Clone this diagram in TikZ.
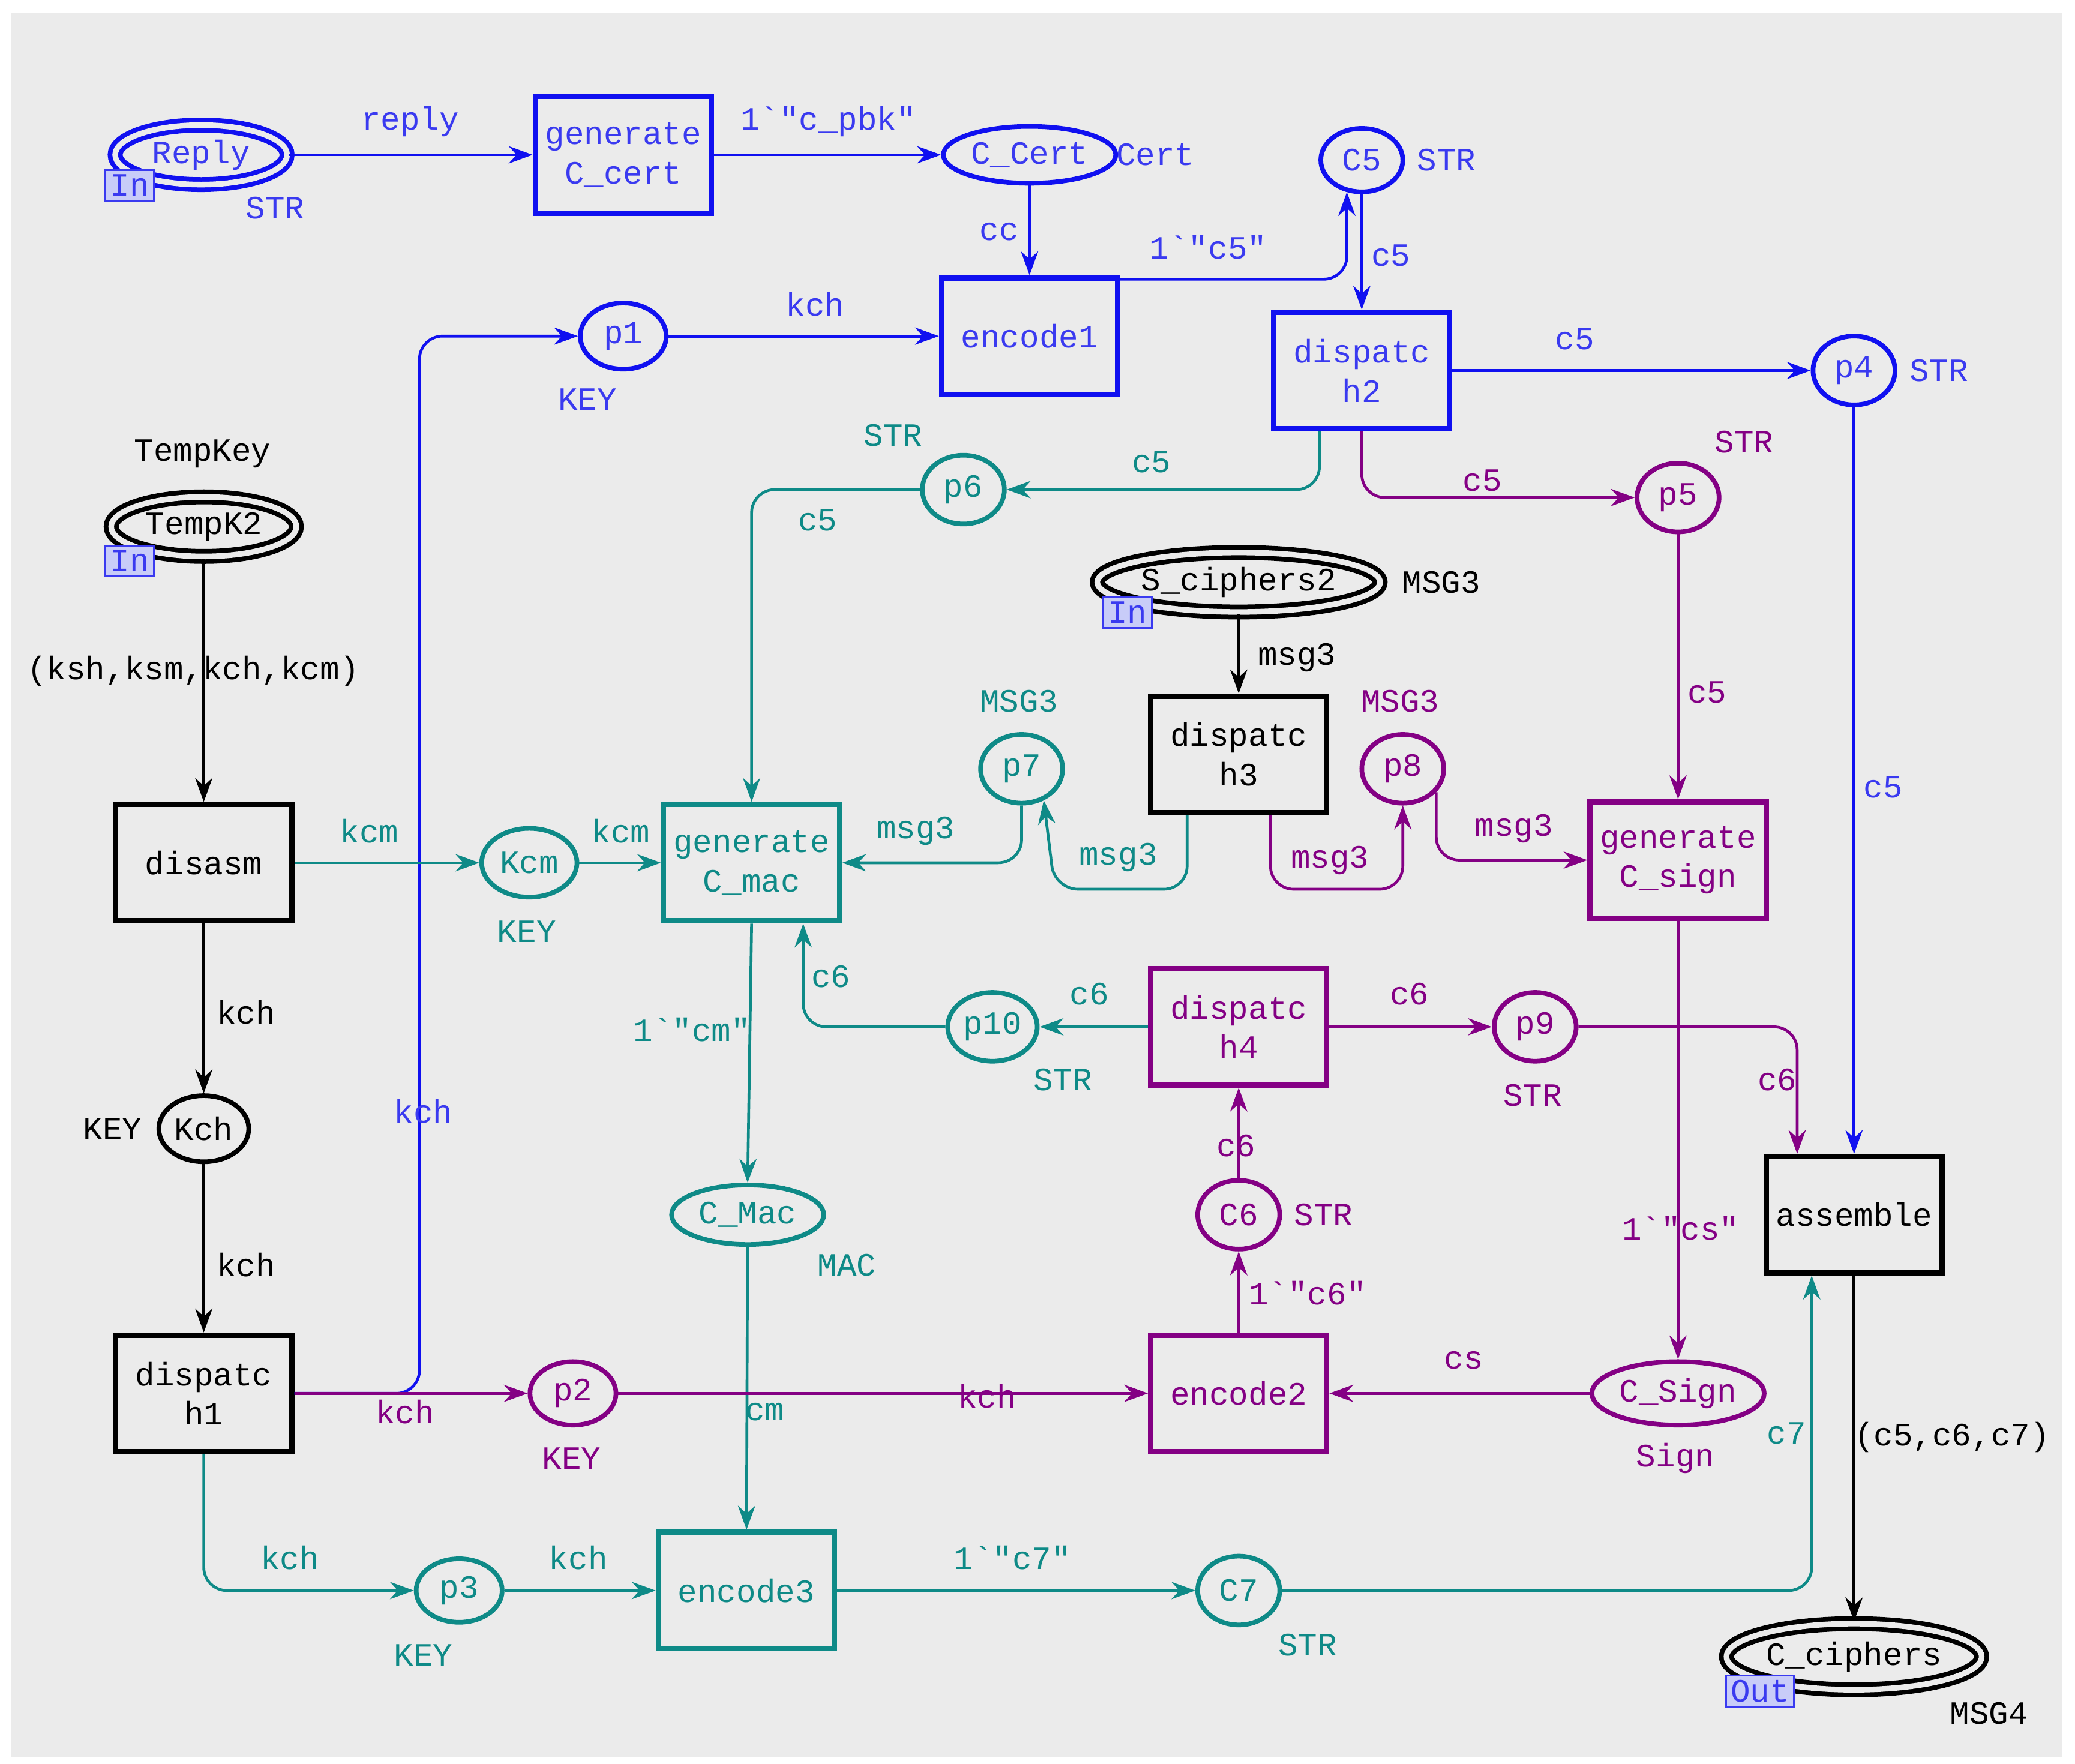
\documentclass[tikz,border=0pt]{standalone}
\usepackage{fontspec}
\setmainfont{Liberation Mono}[Ligatures=TeXOff]
\usetikzlibrary{arrows.meta,shapes.geometric}
\definecolor{bl}{HTML}{1010F0}
\definecolor{blt}{HTML}{3A3AF0}
\definecolor{te}{HTML}{0E8A87}
\definecolor{pu}{HTML}{840084}
\definecolor{bg}{HTML}{EBEBEB}
\definecolor{tagf}{HTML}{C8CCF8}
\newcommand{\bq}{\symbol{96}}
\newcommand{\dq}{\symbol{34}}
\begin{document}
\begin{tikzpicture}[x=0.02cm,y=-0.02cm,
  every node/.style={font=\fontsize{14}{17}\selectfont, inner sep=1pt},
  tr/.style={draw,line width=2.3pt,fill=bg,minimum width=2.66cm,minimum height=1.76cm,align=center},
  pl/.style={draw,ellipse,line width=2pt,fill=bg,minimum width=1.3cm,minimum height=1.0cm},
  dpl/.style={draw,ellipse,line width=2pt,fill=bg,double=bg,double distance=2.4pt,minimum height=0.9cm},
  cB/.style={draw=bl,text=blt}, cT/.style={draw=te,text=te}, cP/.style={draw=pu,text=pu}, cK/.style={draw=black,text=black},
  tag/.style={draw=blt,fill=tagf,text=blt,line width=0.8pt,inner sep=2pt},
  ar/.style={line width=1.2pt,-{Stealth[length=0.36cm,width=0.26cm]}},
  rc/.style={rounded corners=0.35cm},
  B/.style={ar,bl}, T/.style={ar,te}, P/.style={ar,pu}, K/.style={ar,black}]
\fill[white] (0,0) rectangle (1568,1333);
\fill[bg] (8,10) rectangle (1558,1328);
% routing coordinates
\coordinate (k1) at (317,254);
\coordinate (m1) at (797,672);
\coordinate (m2) at (1060,672);
% nodes
\node[dpl,cB,minimum width=2.6cm] (reply) at (152,117) {Reply};
\node[tr,cB] (gcc) at (471,117) {generate\\C\_cert};
\node[pl,cB,minimum width=2.3cm,minimum height=0.86cm] (ccert) at (778,117) {C\_Cert};
\node[pl,cB,minimum width=1.24cm,minimum height=0.96cm] (c5) at (1029,121) {C5};
\node[tr,cB] (enc1) at (778,254) {encode1};
\node[pl,cB] (p1) at (471,254) {p1};
\node[tr,cB] (d2) at (1029,280) {dispatc\\h2};
\node[pl,cB,minimum width=1.24cm,minimum height=1.04cm] (p4) at (1401,280) {p4};
\node[dpl,cK,minimum width=2.8cm] (tk) at (154,398) {TempK2};
\node[pl,cT,minimum width=1.24cm,minimum height=1.04cm] (p6) at (728,370) {p6};
\node[pl,cP,minimum width=1.24cm,minimum height=1.04cm] (p5) at (1268,376) {p5};
\node[dpl,cK,minimum width=4.2cm] (sc2) at (936,440) {S\_ciphers2};
\node[tr,cK] (d3) at (936,570) {dispatc\\h3};
\node[pl,cT,minimum width=1.24cm,minimum height=1.04cm] (p7) at (772,581) {p7};
\node[pl,cP,minimum width=1.24cm,minimum height=1.04cm] (p8) at (1060,581) {p8};
\node[tr,cK] (dis) at (154,652) {disasm};
\node[pl,cT,minimum width=1.44cm,minimum height=1.04cm] (kcm) at (400,652) {Kcm};
\node[tr,cT] (gcm) at (568,652) {generate\\C\_mac};
\node[tr,cP] (gcs) at (1268,650) {generate\\C\_sign};
\node[tr,cP] (d4) at (936,776) {dispatc\\h4};
\node[pl,cT,minimum width=1.24cm,minimum height=1.04cm] (p10) at (750,776) {p10};
\node[pl,cP,minimum width=1.24cm,minimum height=1.04cm] (p9) at (1160,776) {p9};
\node[pl,cK,minimum width=1.36cm,minimum height=1.0cm] (kch) at (154,853) {Kch};
\node[pl,cP,minimum width=1.24cm,minimum height=1.04cm] (c6) at (936,918) {C6};
\node[pl,cT,minimum width=2.3cm,minimum height=0.9cm] (cmac) at (565,918) {C\_Mac};
\node[tr,cK] (asm) at (1401,918) {assemble};
\node[tr,cK] (d1) at (154,1053) {dispatc\\h1};
\node[pl,cP,minimum width=1.3cm,minimum height=0.96cm] (p2) at (433,1053) {p2};
\node[tr,cP] (enc2) at (936,1053) {encode2};
\node[pl,cP,minimum width=2.3cm,minimum height=0.96cm] (csign) at (1268,1053) {C\_Sign};
\node[pl,cT,minimum width=1.3cm,minimum height=0.96cm] (p3) at (347,1202) {p3};
\node[tr,cT] (enc3) at (564,1202) {encode3};
\node[pl,cT,minimum width=1.24cm,minimum height=1.04cm] (c7) at (936,1202) {C7};
\node[dpl,cK,minimum width=3.4cm,minimum height=1.0cm] (cc) at (1401,1252) {C\_ciphers};
% tags
\node[tag] (t1) at (98,140) {In};
\node[tag] (t2) at (98,424) {In};
\node[tag] (t3) at (852,463) {In};
\node[tag] (t4) at (1330,1278) {Out};
% blue edges
\draw[B] (reply) -- (gcc);
\draw[B] (gcc) -- (ccert);
\draw[B] (ccert) -- (enc1);
\draw[B,rc] ([yshift=0.86cm]enc1.east) -| (c5.245);
\draw[B] (c5) -- (d2);
\draw[B] (p1) -- (enc1);
\draw[B] (d2) -- (p4);
\draw[B] (p4) -- (asm);
\draw[B,rc] (d1.east) -| (k1) -- (p1);
% teal edges
\draw[T,rc] ([xshift=-0.64cm]d2.south) |- (p6.east);
\draw[T,rc] (p6.west) -| (gcm.north);
\draw[T] (dis) -- (kcm);
\draw[T] (kcm) -- (gcm);
\draw[T,rc] (p7.south) |- (gcm.east);
\draw[T,rc] ([xshift=-0.78cm]d3.south) |- (m1) -- (p7.-55);
\draw[T,rc] (p10.west) -| ([xshift=0.78cm]gcm.south);
\draw[T] (d4) -- (p10);
\draw[T] (gcm.south) -- (cmac.north);
\draw[T] (cmac) -- (enc3);
\draw[T,rc] (d1.south) |- (p3.west);
\draw[T] (p3) -- (enc3);
\draw[T] (enc3) -- (c7);
\draw[T,rc] (c7.east) -| ([xshift=-0.64cm]asm.south);
% purple edges
\draw[P,rc] (d2.south) |- (p5.west);
\draw[P] (p5) -- (gcs);
\draw[P,rc] ([xshift=0.48cm]d3.south) |- (m2) -- (p8.south);
\draw[P,rc] (p8.-35) |- (gcs.west);
\draw[P] (d4) -- (p9);
\draw[P,rc] (p9.east) -| ([xshift=-0.86cm]asm.north);
\draw[P] (c6) -- (d4);
\draw[P] (enc2) -- (c6);
\draw[P] (gcs) -- (csign);
\draw[P] (csign) -- (enc2);
\draw[P] (d1.east) -- (p2);
\draw[P] (p2) -- (enc2);
% black edges
\draw[K] (tk) -- (dis);
\draw[K] (sc2) -- (d3);
\draw[K] (dis) -- (kch);
\draw[K] (kch) -- (d1);
\draw[K] (asm) -- (cc);
% edge labels
\begin{scope}[text=blt]
\node (l1) at (310,92) {reply};
\node (l2) at (626,92) {1\bq\dq c\_pbk\dq};
\node (l3) at (755,175) {cc};
\node (l4) at (913,187) {1\bq\dq c5\dq};
\node (l5) at (1051,193) {c5};
\node (l6) at (616,230) {kch};
\node (l7) at (1190,256) {c5};
\node (l8) at (1423,595) {c5};
\node (l9) at (320,840) {kch};
\node (y1) at (208,157) {STR};
\node (y2) at (873,117) {Cert};
\node (y3) at (1093,121) {STR};
\node (y4) at (444,302) {KEY};
\node (y5) at (1465,280) {STR};
\end{scope}
\begin{scope}[text=te]
\node at (870,349) {c5};
\node at (618,393) {c5};
\node at (279,628) {kcm};
\node at (469,628) {kcm};
\node at (692,628) {msg3};
\node at (845,648) {msg3};
\node at (628,738) {c6};
\node at (823,751) {c6};
\node at (523,778) {1\bq\dq cm\dq};
\node at (578,1067) {cm};
\node at (219,1177) {kch};
\node at (437,1177) {kch};
\node at (765,1177) {1\bq\dq c7\dq};
\node at (1350,1083) {c7};
\node at (675,329) {STR};
\node at (770,530) {MSG3};
\node at (398,704) {KEY};
\node at (803,816) {STR};
\node at (640,956) {MAC};
\node at (320,1251) {KEY};
\node at (988,1243) {STR};
\end{scope}
\begin{scope}[text=pu]
\node at (1120,363) {c5};
\node at (1290,523) {c5};
\node at (1005,650) {msg3};
\node at (1144,626) {msg3};
\node at (1065,751) {c6};
\node at (1343,816) {c6};
\node at (934,866) {c6};
\node at (988,977) {1\bq\dq c6\dq};
\node at (1270,928) {1\bq\dq cs\dq};
\node at (1106,1028) {cs};
\node at (306,1067) {kch};
\node at (746,1055) {kch};
\node at (1318,334) {STR};
\node at (1058,530) {MSG3};
\node at (1158,828) {STR};
\node at (1000,918) {STR};
\node at (432,1102) {KEY};
\node at (1266,1102) {Sign};
\end{scope}
\node at (146,507) {(ksh,ksm,kch,kcm)};
\node at (980,497) {msg3};
\node at (186,765) {kch};
\node at (186,956) {kch};
\node at (1475,1086) {(c5,c6,c7)};
\node at (153,343) {TempKey};
\node at (1089,440) {MSG3};
\node at (85,853) {KEY};
\node at (1503,1295) {MSG4};
\end{tikzpicture}
\end{document}
